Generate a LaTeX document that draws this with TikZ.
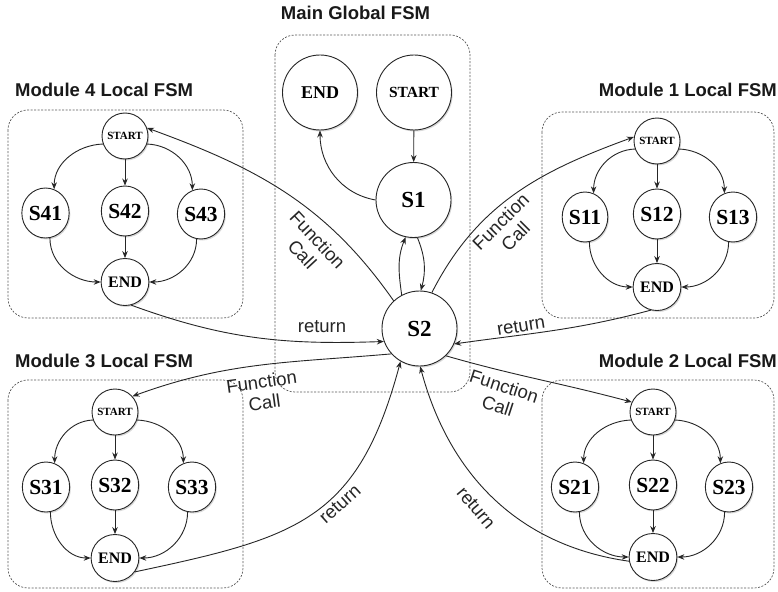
\documentclass[tikz,border=0pt]{standalone}
\usepackage{fontspec}
\setmainfont{Liberation Serif}
\newfontfamily\lsans{Liberation Sans}
\usetikzlibrary{arrows.meta,shapes.geometric,shadows}
\begin{document}
\begin{tikzpicture}[x=1pt,y=1pt,
  conn/.style={draw=black!85, line width=0.9pt, -{Stealth[length=7pt,width=5.5pt]}},
  grpbox/.style={draw=black!65, dash pattern=on 2pt off 1.5pt, line width=0.7pt, rounded corners=20pt},
  stbase/.style={draw=black!85, line width=0.9pt, fill=white, inner sep=0pt,
     drop shadow={shadow xshift=1.2pt, shadow yshift=-1.5pt, opacity=0.3}},
  bigst/.style={stbase, circle, minimum size=75pt, font=\bfseries\fontsize{18}{20}\selectfont},
  bigs/.style={stbase, circle, minimum size=75pt, font=\bfseries\fontsize{23}{25}\selectfont},
  smstart/.style={stbase, circle, minimum size=46pt, font=\bfseries\fontsize{11}{12}\selectfont},
  smst/.style={stbase, ellipse, minimum width=43pt, minimum height=50pt, font=\bfseries\fontsize{21.5}{23}\selectfont},
  smend/.style={stbase, ellipse, minimum width=44pt, minimum height=47pt, font=\bfseries\fontsize{16}{18}\selectfont},
  lbl/.style={font=\lsans\fontsize{18.5}{21}\selectfont, align=center, text=black!85, inner sep=0pt},
  ttl/.style={font=\lsans\bfseries\fontsize{18.5}{21}\selectfont, text=black!90, inner sep=0pt}
]
\useasboundingbox (0,0) rectangle (778,-591);
\fill[white] (0,0) rectangle (778,-591);

% group boxes
\draw[grpbox] (275,-35) rectangle (470,-392);
\draw[grpbox] (8,-110) rectangle (243,-318);
\draw[grpbox] (542,-112) rectangle (774,-318);
\draw[grpbox] (8,-380) rectangle (243,-588);
\draw[grpbox] (542,-380) rectangle (774,-588);

% titles
\node[ttl, anchor=base] (tmain) at (355.5,-20) {Main Global FSM};
\node[ttl, anchor=base west] (t4) at (15,-97) {Module 4 Local FSM};
\node[ttl, anchor=base east] (t1) at (777,-97) {Module 1 Local FSM};
\node[ttl, anchor=base west] (t3) at (15,-367) {Module 3 Local FSM};
\node[ttl, anchor=base east] (t2) at (777,-367) {Module 2 Local FSM};

% main FSM nodes
\node[bigst] (gEND) at (320,-92.5) {END};
\node[bigst, font=\bfseries\fontsize{15.5}{17}\selectfont] (gSTART) at (414,-92.5) {START};
\node[bigs] (S1) at (413.5,-200) {S1};
\node[bigs] (S2) at (419.5,-328.5) {S2};

% module nodes
\node[smstart] (m4-s) at (125,-136) {START};
\node[smst] (m4-a) at (45.5,-213) {S41};
\node[smst] (m4-b) at (125,-211) {S42};
\node[smst] (m4-c) at (201,-214) {S43};
\node[smend] (m4-e) at (125,-282) {END};

\node[smstart] (m1-s) at (657,-141) {START};
\node[smst] (m1-a) at (585,-217) {S11};
\node[smst] (m1-b) at (657,-214) {S12};
\node[smst] (m1-c) at (733,-217) {S13};
\node[smend] (m1-e) at (657,-287) {END};

\node[smstart] (m3-s) at (115,-412) {START};
\node[smst] (m3-a) at (46,-487) {S31};
\node[smst] (m3-b) at (115,-485) {S32};
\node[smst] (m3-c) at (192,-487) {S33};
\node[smend] (m3-e) at (115,-558) {END};

\node[smstart] (m2-s) at (653,-412) {START};
\node[smst] (m2-a) at (575,-487) {S21};
\node[smst] (m2-b) at (653,-485) {S22};
\node[smst] (m2-c) at (729,-487) {S23};
\node[smend] (m2-e) at (653,-557) {END};

% module internal edges
\foreach \m in {m1,m2,m3,m4} {
  \draw[conn] (\m-s.200) to[out=182,in=90] (\m-a.70);
  \draw[conn] (\m-s) -- (\m-b);
  \draw[conn] (\m-s.-20) to[out=-2,in=90] (\m-c.110);
  \draw[conn] (\m-a.-80) to[out=-90,in=180] (\m-e.west);
  \draw[conn] (\m-b) -- (\m-e);
  \draw[conn] (\m-c.-100) to[out=-90,in=0] (\m-e.east);
}

% main FSM edges
\draw[conn] (gSTART) -- (S1);
\draw[conn] (S1.west) to[out=170,in=-90] (gEND.south);
\draw[conn] (S2.118) to[out=98,in=-112] (S1.258);
\draw[conn] (S1.-84) to[out=-68,in=75] (S2.88);

% calls and returns
\draw[conn] (S2.133) to[out=125,in=-20] (m4-s.20);
\draw[conn] (m4-e.-75) to[out=-20,in=182] (S2.200);
\draw[conn] (S2.71) to[out=63,in=200] (m1-s.170);
\draw[conn] (m1-e.-105) to[out=195,in=8] (S2.-24);
\draw[conn] (S2.222) to[out=185,in=20] (m3-s.42);
\draw[conn] (m3-e.-35) to[out=12,in=-105,looseness=1.25] (S2.240);
\draw[conn] (S2.-46) to[out=-16,in=165] (m2-s.155);
\draw[conn] (m2-e.190) to[out=172,in=-75] (S2.-89);

% labels
\node[lbl, rotate=-47] (l4c) at (310,-247) {Function\\Call};
\node[lbl] (l4r) at (322,-327) {return};
\node[lbl, rotate=45] (l1c) at (508,-229) {Function\\Call};
\node[lbl, rotate=9] (l1r) at (521,-326) {return};
\node[lbl, rotate=8] (l3c) at (263,-392) {Function\\Call};
\node[lbl, rotate=42] (l3r) at (340,-504) {return};
\node[lbl, rotate=-18] (l2c) at (501,-396) {Function\\Call};
\node[lbl, rotate=-50] (l2r) at (476,-508) {return};
\end{tikzpicture}
\end{document}
